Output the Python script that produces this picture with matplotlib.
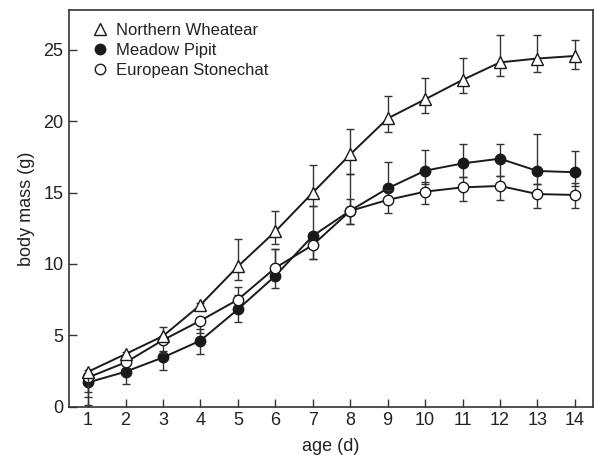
import matplotlib
matplotlib.use("Agg")
import matplotlib.pyplot as plt
from matplotlib.lines import Line2D
import numpy as np

plt.rcParams['font.family'] = ['Liberation Sans', 'DejaVu Sans']

age = [1, 2, 3, 4, 5, 6, 7, 8, 9, 10, 11, 12, 13, 14]
xtick_labels = [str(a) for a in age]
yticks = [0, 5, 10, 15, 20, 25]

wheatear_mean = [2.45, 3.69, 4.95, 7.13, 9.83, 12.28, 15.0, 17.68, 20.2, 21.54, 22.9, 24.13, 24.4, 24.58]
wheatear_err_lo = [1.45, 0.15, 0.15, 0.15, 0.95, 0.9, 0.94, 1.4, 0.95, 0.95, 0.94, 0.93, 0.97, 0.94]
wheatear_err_hi = [0.12, 0.12, 0.65, 0.12, 1.92, 1.46, 1.94, 1.76, 1.6, 1.46, 1.56, 1.94, 1.67, 1.12]

pipit_mean = [1.7, 2.45, 3.45, 4.63, 6.82, 9.17, 11.97, 13.74, 15.3, 16.54, 17.05, 17.38, 16.52, 16.43]
pipit_err_lo = [1.55, 0.85, 0.88, 0.94, 0.86, 0.87, 1.6, 0.96, 0.9, 0.94, 0.98, 1.21, 0.92, 0.94]
pipit_err_hi = [0.15, 0.15, 0.47, 0.79, 1.01, 1.86, 2.09, 2.55, 1.87, 1.45, 1.35, 1.02, 2.57, 1.51]

stonechat_mean = [2.05, 3.1, 4.67, 6.03, 7.5, 9.73, 11.33, 13.72, 14.49, 15.07, 15.37, 15.47, 14.9, 14.84]
stonechat_err_lo = [1.35, 0.15, 0.89, 0.84, 0.15, 0.15, 0.96, 0.94, 0.89, 0.89, 0.96, 0.99, 0.95, 0.89]
stonechat_err_hi = [0.15, 0.15, 0.15, 0.15, 0.87, 1.3, 0.3, 0.81, 0.7, 0.68, 0.7, 0.7, 0.7, 0.81]

labels = ["Northern Wheatear", "Meadow Pipit", "European Stonechat"]

ink = '#1a1a1a'
fig = plt.figure(figsize=(5.94, 4.55), dpi=100)
ax = fig.add_axes([0.1162, 0.1062, 0.8818, 0.8718])

common = dict(color=ink, ecolor='#333333', elinewidth=1.0, capsize=2.6, capthick=1.0,
              linewidth=1.4, markeredgewidth=1.0, markeredgecolor=ink)

ax.errorbar(age, pipit_mean, yerr=[pipit_err_lo, pipit_err_hi], marker='o', markersize=7.5,
            markerfacecolor=ink, zorder=2, **common)
ax.errorbar(age, stonechat_mean, yerr=[stonechat_err_lo, stonechat_err_hi], marker='o', markersize=7.5,
            markerfacecolor='white', zorder=3, **common)
ax.errorbar(age, wheatear_mean, yerr=[wheatear_err_lo, wheatear_err_hi], marker='^', markersize=8.5,
            markerfacecolor='white', zorder=4, **common)

ax.set_xlim(0.49, 14.48)
ax.set_ylim(0, 27.8)
ax.set_xticks(age)
ax.set_xticklabels(xtick_labels)
ax.set_yticks(yticks)
ax.tick_params(direction='in', length=6, width=1.0, color='#333333', labelsize=13,
               labelcolor='#222222', pad=4)
for s in ax.spines.values():
    s.set_color('#333333')
    s.set_linewidth(1.2)

ax.set_xlabel("age (d)", fontsize=13, color='#222222', labelpad=6)
ax.set_ylabel("body mass (g)", fontsize=13, color='#222222', labelpad=6)

handles = [
    Line2D([], [], linestyle='none', marker='^', markersize=8, markerfacecolor='white', markeredgecolor=ink, markeredgewidth=1.0),
    Line2D([], [], linestyle='none', marker='o', markersize=7.5, markerfacecolor=ink, markeredgecolor=ink, markeredgewidth=1.0),
    Line2D([], [], linestyle='none', marker='o', markersize=7.5, markerfacecolor='white', markeredgecolor=ink, markeredgewidth=1.0),
]
leg = ax.legend(handles, labels, loc='upper left', bbox_to_anchor=(0.03, 0.985), frameon=False,
                fontsize=12, handlelength=1.0, handletextpad=0.5, labelspacing=0.3,
                borderaxespad=0.0)
for t in leg.get_texts():
    t.set_color('#222222')

fig.savefig("out.png", dpi=100)
